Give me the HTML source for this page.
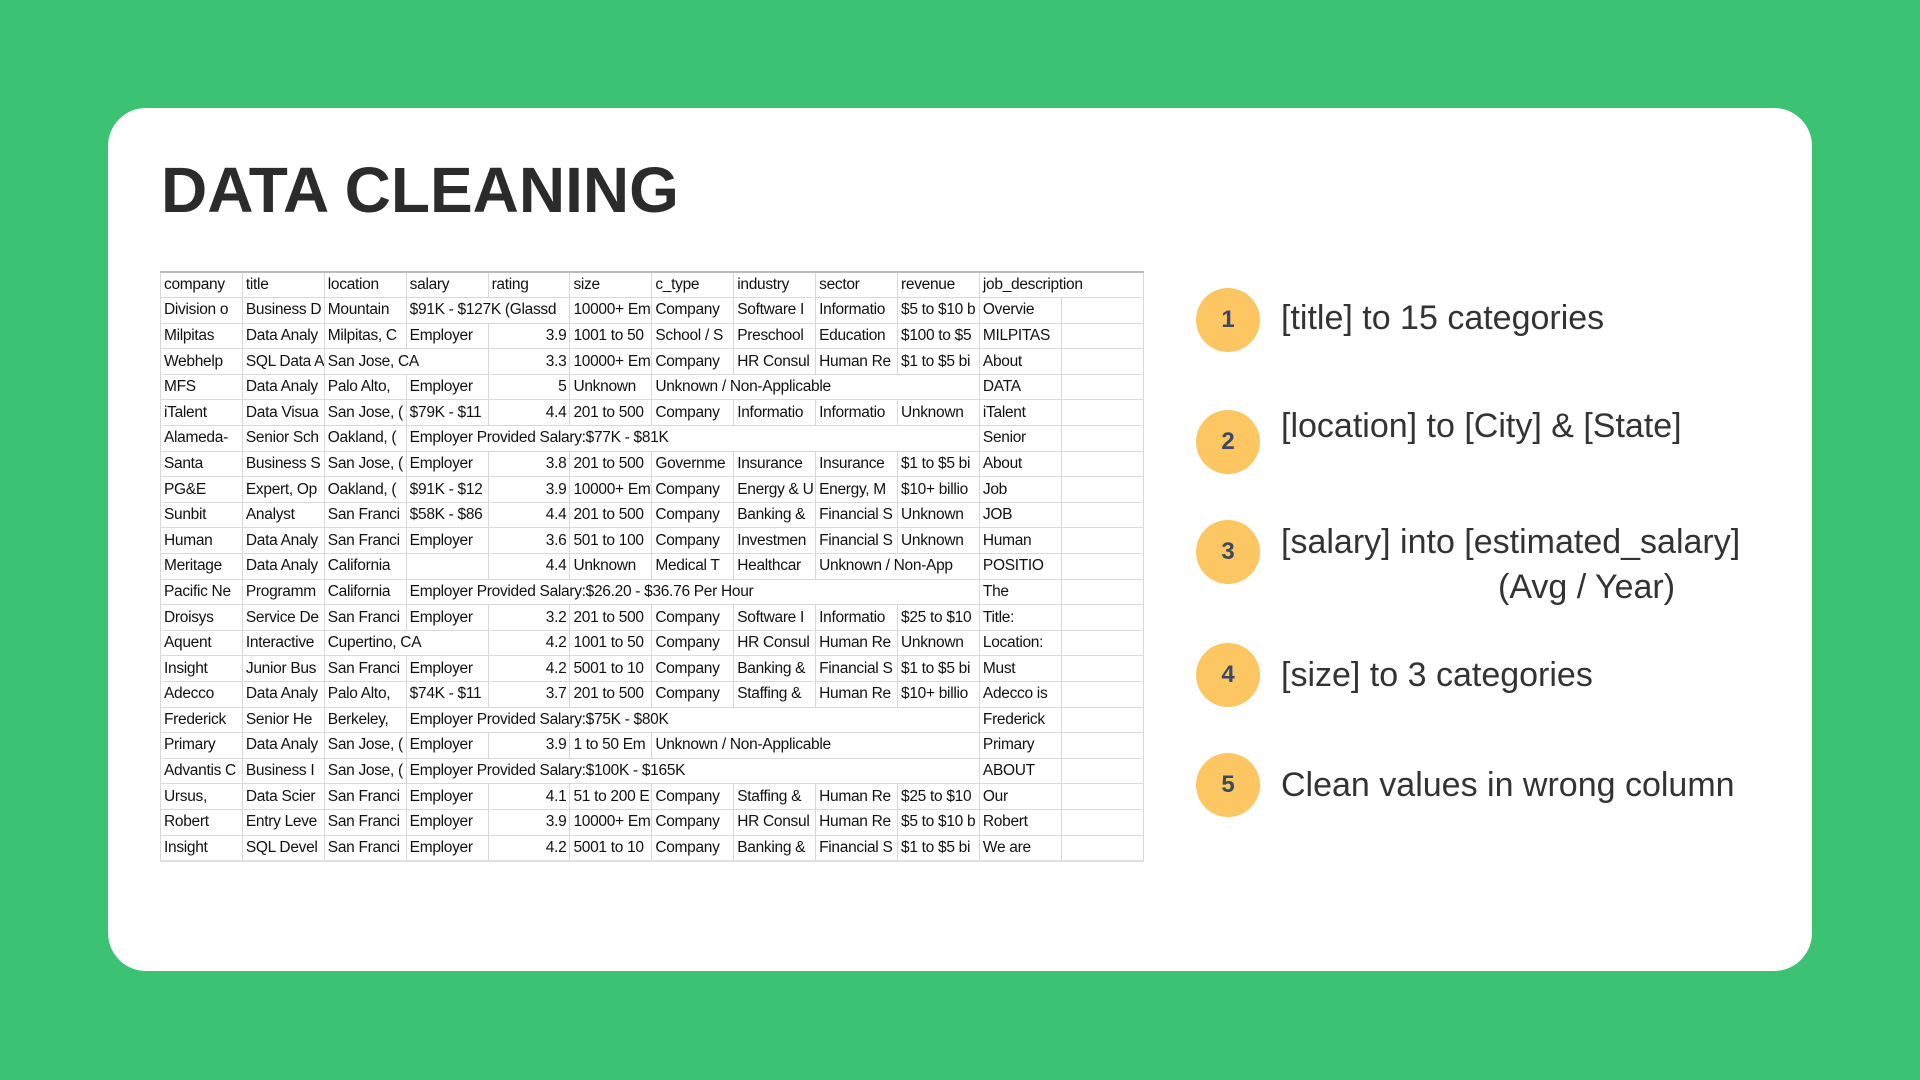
<!DOCTYPE html>
<html><head><meta charset="utf-8"><style>
body{margin:0;width:1920px;height:1080px;background:#3bc273;position:relative;overflow:hidden;font-family:"Liberation Sans",sans-serif}
.card{position:absolute;left:108px;top:108px;width:1704px;height:863px;background:#fff;border-radius:38px}
h1{position:absolute;left:161px;top:153px;margin:0;font-size:64px;font-weight:bold;color:#2b2b2b;letter-spacing:0px}
table{position:absolute;left:160px;top:271px;border-collapse:collapse;table-layout:fixed;width:983px;border-top:2px solid #bbb;border-bottom:2px solid #ddd}
col{width:81.9px}
td{height:25.6px;padding:0 3px;border:1px solid #d8d8d8;font-size:15.5px;color:#111;white-space:nowrap;overflow:hidden;text-overflow:clip;box-sizing:border-box;letter-spacing:-0.3px}
td.r{text-align:right}
.c{position:absolute;width:64px;height:64px;border-radius:50%;background:#fcc762;color:#3b4868;font-weight:bold;font-size:24px;text-align:center;line-height:64px;left:1196px}
.t{position:absolute;left:1281px;font-size:34px;color:#333}
</style></head><body>
<div class="card"></div>
<h1>DATA CLEANING</h1>
<table>
<colgroup><col><col><col><col><col><col><col><col><col><col><col><col></colgroup>
<tr><td>company</td><td>title</td><td>location</td><td>salary</td><td>rating</td><td>size</td><td>c_type</td><td>industry</td><td>sector</td><td>revenue</td><td colspan="2">job_description</td></tr>
<tr><td>Division o</td><td>Business D</td><td>Mountain</td><td colspan="2">$91K - $127K (Glassd</td><td>10000+ Em</td><td>Company</td><td>Software I</td><td>Informatio</td><td>$5 to $10 b</td><td>Overvie</td><td></td></tr>
<tr><td>Milpitas</td><td>Data Analy</td><td>Milpitas, C</td><td>Employer</td><td class="r">3.9</td><td>1001 to 50</td><td>School / S</td><td>Preschool</td><td>Education</td><td>$100 to $5</td><td>MILPITAS</td><td></td></tr>
<tr><td>Webhelp</td><td>SQL Data A</td><td colspan="2">San Jose, CA</td><td class="r">3.3</td><td>10000+ Em</td><td>Company</td><td>HR Consul</td><td>Human Re</td><td>$1 to $5 bi</td><td>About</td><td></td></tr>
<tr><td>MFS</td><td>Data Analy</td><td>Palo Alto,</td><td>Employer</td><td class="r">5</td><td>Unknown</td><td colspan="4">Unknown / Non-Applicable</td><td>DATA</td><td></td></tr>
<tr><td>iTalent</td><td>Data Visua</td><td>San Jose, (</td><td>$79K - $11</td><td class="r">4.4</td><td>201 to 500</td><td>Company</td><td>Informatio</td><td>Informatio</td><td>Unknown</td><td>iTalent</td><td></td></tr>
<tr><td>Alameda-</td><td>Senior Sch</td><td>Oakland, (</td><td colspan="7">Employer Provided Salary:$77K - $81K</td><td>Senior</td><td></td></tr>
<tr><td>Santa</td><td>Business S</td><td>San Jose, (</td><td>Employer</td><td class="r">3.8</td><td>201 to 500</td><td>Governme</td><td>Insurance</td><td>Insurance</td><td>$1 to $5 bi</td><td>About</td><td></td></tr>
<tr><td>PG&amp;E</td><td>Expert, Op</td><td>Oakland, (</td><td>$91K - $12</td><td class="r">3.9</td><td>10000+ Em</td><td>Company</td><td>Energy &amp; U</td><td>Energy, M</td><td>$10+ billio</td><td>Job</td><td></td></tr>
<tr><td>Sunbit</td><td>Analyst</td><td>San Franci</td><td>$58K - $86</td><td class="r">4.4</td><td>201 to 500</td><td>Company</td><td>Banking &amp;</td><td>Financial S</td><td>Unknown</td><td>JOB</td><td></td></tr>
<tr><td>Human</td><td>Data Analy</td><td>San Franci</td><td>Employer</td><td class="r">3.6</td><td>501 to 100</td><td>Company</td><td>Investmen</td><td>Financial S</td><td>Unknown</td><td>Human</td><td></td></tr>
<tr><td>Meritage</td><td>Data Analy</td><td>California</td><td></td><td class="r">4.4</td><td>Unknown</td><td>Medical T</td><td>Healthcar</td><td colspan="2">Unknown / Non-App</td><td>POSITIO</td><td></td></tr>
<tr><td>Pacific Ne</td><td>Programm</td><td>California</td><td colspan="7">Employer Provided Salary:$26.20 - $36.76 Per Hour</td><td>The</td><td></td></tr>
<tr><td>Droisys</td><td>Service De</td><td>San Franci</td><td>Employer</td><td class="r">3.2</td><td>201 to 500</td><td>Company</td><td>Software I</td><td>Informatio</td><td>$25 to $10</td><td>Title:</td><td></td></tr>
<tr><td>Aquent</td><td>Interactive</td><td colspan="2">Cupertino, CA</td><td class="r">4.2</td><td>1001 to 50</td><td>Company</td><td>HR Consul</td><td>Human Re</td><td>Unknown</td><td>Location:</td><td></td></tr>
<tr><td>Insight</td><td>Junior Bus</td><td>San Franci</td><td>Employer</td><td class="r">4.2</td><td>5001 to 10</td><td>Company</td><td>Banking &amp;</td><td>Financial S</td><td>$1 to $5 bi</td><td>Must</td><td></td></tr>
<tr><td>Adecco</td><td>Data Analy</td><td>Palo Alto,</td><td>$74K - $11</td><td class="r">3.7</td><td>201 to 500</td><td>Company</td><td>Staffing &amp;</td><td>Human Re</td><td>$10+ billio</td><td>Adecco is</td><td></td></tr>
<tr><td>Frederick</td><td>Senior He</td><td>Berkeley,</td><td colspan="7">Employer Provided Salary:$75K - $80K</td><td>Frederick</td><td></td></tr>
<tr><td>Primary</td><td>Data Analy</td><td>San Jose, (</td><td>Employer</td><td class="r">3.9</td><td>1 to 50 Em</td><td colspan="4">Unknown / Non-Applicable</td><td>Primary</td><td></td></tr>
<tr><td>Advantis C</td><td>Business I</td><td>San Jose, (</td><td colspan="7">Employer Provided Salary:$100K - $165K</td><td>ABOUT</td><td></td></tr>
<tr><td>Ursus,</td><td>Data Scier</td><td>San Franci</td><td>Employer</td><td class="r">4.1</td><td>51 to 200 E</td><td>Company</td><td>Staffing &amp;</td><td>Human Re</td><td>$25 to $10</td><td>Our</td><td></td></tr>
<tr><td>Robert</td><td>Entry Leve</td><td>San Franci</td><td>Employer</td><td class="r">3.9</td><td>10000+ Em</td><td>Company</td><td>HR Consul</td><td>Human Re</td><td>$5 to $10 b</td><td>Robert</td><td></td></tr>
<tr><td>Insight</td><td>SQL Devel</td><td>San Franci</td><td>Employer</td><td class="r">4.2</td><td>5001 to 10</td><td>Company</td><td>Banking &amp;</td><td>Financial S</td><td>$1 to $5 bi</td><td>We are</td><td></td></tr>
</table>
<div class="c" style="top:288px">1</div>
<div class="c" style="top:410px">2</div>
<div class="c" style="top:520px">3</div>
<div class="c" style="top:643px">4</div>
<div class="c" style="top:753px">5</div>
<div class="t" style="top:299px">[title] to 15 categories</div>
<div class="t" style="top:407px">[location] to [City] &amp; [State]</div>
<div class="t" style="top:523px">[salary] into [estimated_salary]</div>
<div class="t" style="top:568px;left:1498px">(Avg / Year)</div>
<div class="t" style="top:656px">[size] to 3 categories</div>
<div class="t" style="top:766px">Clean values in wrong column</div>
</body></html>
